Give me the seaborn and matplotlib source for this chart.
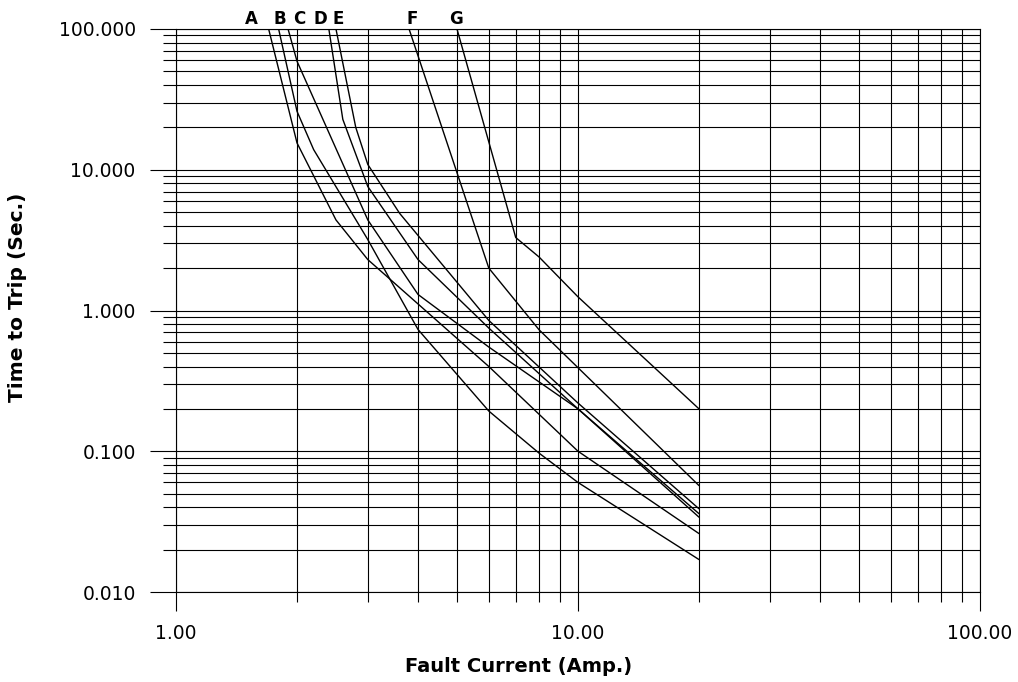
import numpy as np
import pandas as pd
import matplotlib
matplotlib.use("Agg")
import matplotlib.pyplot as plt
import seaborn as sns
from matplotlib.ticker import FixedLocator, FixedFormatter, NullFormatter
import matplotlib.transforms as mtransforms

# ---- data ----
curve_names = ["A", "B", "C", "D", "E", "F", "G"]
A_x = [1.7, 2.0, 2.5, 3.0, 6.0, 10.0, 20.0]
A_y = [100, 15.5, 4.4, 2.3, 0.40, 0.10, 0.026]
B_x = [1.8, 2.0, 2.2, 3.0, 4.0, 6.0, 8.0, 10.0, 20.0]
B_y = [100, 26, 13.9, 3.19, 0.733, 0.193, 0.097, 0.060, 0.017]
C_x = [1.9, 2.0, 3.0, 4.0, 6.0, 10.0, 20.0]
C_y = [100, 59, 4.4, 1.3, 0.55, 0.20, 0.034]
D_x = [2.4, 2.6, 3.0, 4.0, 6.0, 10.0, 20.0]
D_y = [100, 22.8, 7.6, 2.3, 0.75, 0.20, 0.036]
E_x = [2.5, 2.8, 3.0, 3.6, 6.0, 10.0, 20.0]
E_y = [100, 20, 10.9, 4.9, 0.85, 0.22, 0.039]
F_x = [3.8, 6.0, 8.0, 20.0]
F_y = [100, 2.0, 0.73, 0.057]
G_x = [5.0, 7.0, 8.0, 10.0, 20.0]
G_y = [100, 3.3, 2.4, 1.25, 0.20]

label_x = [1.54, 1.81, 2.03, 2.28, 2.53, 3.86, 4.97]

x_ticks = [1, 10, 100]
x_tick_labels = ["1.00", "10.00", "100.00"]
y_ticks = [0.01, 0.1, 1, 10, 100]
y_tick_labels = ["0.010", "0.100", "1.000", "10.000", "100.000"]

xs = [A_x, B_x, C_x, D_x, E_x, F_x, G_x]
ys = [A_y, B_y, C_y, D_y, E_y, F_y, G_y]
frames = []
for name, cx, cy in zip(curve_names, xs, ys):
    frames.append(pd.DataFrame({"curve": name, "current": cx, "time": cy}))
df = pd.concat(frames, ignore_index=True)

# ---- plot ----
sns.set_style("white")
plt.rcParams["font.family"] = ["DejaVu Sans"]
plt.rcParams["text.color"] = "black"
plt.rcParams["axes.labelcolor"] = "black"
plt.rcParams["xtick.color"] = "black"
plt.rcParams["ytick.color"] = "black"

fig = plt.figure(figsize=(10.18, 6.82), dpi=100)
ax = fig.add_axes([176 / 1018, 1 - 592 / 682, (980 - 176) / 1018, (592 - 29) / 682])
ax.set_xscale("log")
ax.set_yscale("log")

sns.lineplot(data=df, x="current", y="time", hue="curve", units="curve",
             estimator=None, sort=False, palette=["black"] * 7,
             legend=False, linewidth=1.0, ax=ax)

ax.set_xlim(1, 100)
ax.set_ylim(0.01, 100)

minor_x = [m * 10 ** e for e in range(0, 2) for m in range(2, 10)]
minor_y = [m * 10 ** e for e in range(-2, 2) for m in range(2, 10)]
ax.xaxis.set_major_locator(FixedLocator(x_ticks))
ax.xaxis.set_major_formatter(FixedFormatter(x_tick_labels))
ax.xaxis.set_minor_locator(FixedLocator(minor_x))
ax.xaxis.set_minor_formatter(NullFormatter())
ax.yaxis.set_major_locator(FixedLocator(y_ticks))
ax.yaxis.set_major_formatter(FixedFormatter(y_tick_labels))
ax.yaxis.set_minor_locator(FixedLocator(minor_y))
ax.yaxis.set_minor_formatter(NullFormatter())

ax.grid(True, which="both", color="black", linewidth=0.8)
for s in ax.spines.values():
    s.set_color("black")
    s.set_linewidth(0.8)

ax.tick_params(axis="both", which="both", bottom=True, left=True,
               direction="out", colors="black", width=0.8)
ax.tick_params(axis="y", which="major", length=19, pad=10, labelsize=13.5)
ax.tick_params(axis="y", which="minor", length=9.4)
ax.tick_params(axis="x", which="major", length=13.7, pad=9, labelsize=13.5)
ax.tick_params(axis="x", which="minor", length=7)

ax.set_xlabel("Fault Current (Amp.)", fontsize=14, fontweight="bold")
ax.set_ylabel("Time to Trip (Sec.)", fontsize=14.5, fontweight="bold")
ax.xaxis.set_label_coords((519 - 176) / 804, (592 - 667) / 563)
ax.yaxis.set_label_coords((18 - 176) / 804, (592 - 297) / 563)
ax.xaxis.label.set_va("center")
ax.yaxis.label.set_va("center")

trans = mtransforms.blended_transform_factory(ax.transData, ax.transAxes)
for name, lx in zip(curve_names, label_x):
    ax.text(lx, 1.018, name, transform=trans, ha="center", va="center",
            fontsize=12, fontweight="bold")

fig.savefig("out.png", dpi=100)
